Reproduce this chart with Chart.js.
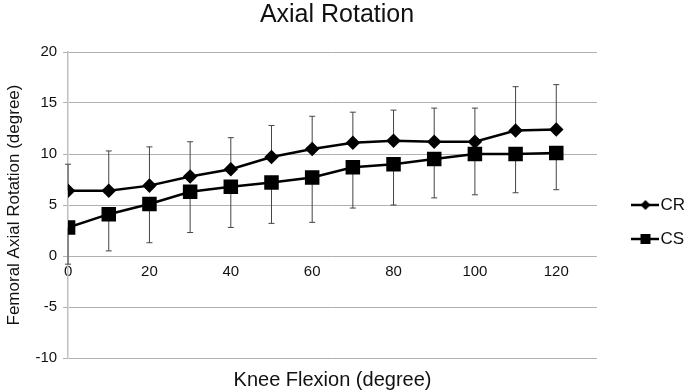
<!DOCTYPE html>
<html>
<head>
<meta charset="utf-8">
<script src="https://cdn.jsdelivr.net/npm/chart.js@4"></script>
<style>
  html, body { margin: 0; padding: 0; background: #fff; }
  #wrap { width: 688px; height: 392px; }
</style>
</head>
<body>
<div id="wrap"><canvas id="chart"></canvas></div>
<script>
const flexion = [0, 10, 20, 30, 40, 50, 60, 70, 80, 90, 100, 110, 120];
const crMean = [6.4, 6.4, 6.9, 7.8, 8.5, 9.7, 10.5, 11.1, 11.3, 11.2, 11.2, 12.3, 12.4];
const crSD = [2.6, 3.9, 3.8, 3.4, 3.1, 3.1, 3.2, 3.0, 3.0, 3.3, 3.3, 4.3, 4.4];
const csMean = [2.8, 4.1, 5.1, 6.3, 6.8, 7.2, 7.7, 8.7, 9.0, 9.5, 10.0, 10.0, 10.1];
const csSD = [3.6, 3.6, 3.8, 4.0, 4.0, 4.0, 4.4, 4.0, 4.0, 3.8, 4.0, 3.8, 3.6];
const xTicks = [0, 20, 40, 60, 80, 100, 120];

const font = "'Liberation Sans', Arial, sans-serif";
const ink = "#111";

// small legend swatch: line with the marker on it
function swatch(shape) {
  const c = document.createElement("canvas");
  c.width = 28; c.height = 14;
  const g = c.getContext("2d");
  g.strokeStyle = "#000";
  g.lineWidth = 2.5;
  g.beginPath(); g.moveTo(0, 7); g.lineTo(28, 7); g.stroke();
  g.fillStyle = "#000";
  if (shape === "diamond") {
    g.beginPath();
    g.moveTo(14, 2); g.lineTo(19, 7); g.lineTo(14, 12); g.lineTo(9, 7);
    g.closePath(); g.fill();
  } else {
    g.fillRect(9, 2, 10, 10);
  }
  return c;
}

// error bars: CR up, CS down
const errorBars = {
  id: "errorBars",
  beforeDatasetsDraw(chart) {
    const { ctx, scales: { x, y } } = chart;
    ctx.save();
    ctx.strokeStyle = "#444";
    ctx.lineWidth = 1;
    const draw = (means, sds, dir) => {
      flexion.forEach((f, i) => {
        const px = x.getPixelForValue(f);
        const y0 = y.getPixelForValue(means[i]);
        const y1 = y.getPixelForValue(means[i] + dir * sds[i]);
        ctx.beginPath();
        ctx.moveTo(px, y0); ctx.lineTo(px, y1);
        ctx.moveTo(px - 3, y1); ctx.lineTo(px + 3, y1);
        ctx.stroke();
      });
    };
    draw(crMean, crSD, 1);
    draw(csMean, csSD, -1);
    ctx.restore();
  }
};

// nudge the legend down/right to where it sits in the original
const legendShift = {
  id: "legendShift",
  afterLayout(chart) {
    const lg = chart.legend;
    lg.top += 26; lg.bottom += 26;
    lg.left += 25; lg.right += 25;
  }
};

new Chart(document.getElementById("chart"), {
  type: "scatter",
  data: {
    datasets: [
      {
        label: "CR",
        data: flexion.map((f, i) => ({ x: f, y: crMean[i] })),
        showLine: true,
        borderColor: "#000",
        backgroundColor: "#000",
        borderWidth: 2.5,
        pointStyle: "rectRot",
        pointRadius: 5.5,
        pointHoverRadius: 5.5,
        legendImg: swatch("diamond")
      },
      {
        label: "CS",
        data: flexion.map((f, i) => ({ x: f, y: csMean[i] })),
        showLine: true,
        borderColor: "#000",
        backgroundColor: "#000",
        borderWidth: 2.5,
        pointStyle: "rect",
        pointRadius: 8.5,
        pointHoverRadius: 8.5,
        legendImg: swatch("square")
      }
    ]
  },
  options: {
    responsive: true,
    maintainAspectRatio: false,
    animation: false,
    layout: { padding: { left: 4, right: 18, bottom: 0 } },
    plugins: {
      title: {
        display: true,
        text: "Axial Rotation",
        color: ink,
        font: { family: font, size: 25, weight: "normal" },
        padding: { top: 0, bottom: 22 }
      },
      legend: {
        position: "right",
        labels: {
          usePointStyle: true,
          pointStyleWidth: 13,
          color: ink,
          font: { family: font, size: 17 },
          padding: 17,
          generateLabels: (chart) => chart.data.datasets.map((ds, i) => ({
            text: ds.label,
            pointStyle: ds.legendImg,
            fontColor: ink,
            lineWidth: 0,
            datasetIndex: i
          }))
        }
      },
      tooltip: { enabled: false }
    },
    scales: {
      x: {
        type: "linear",
        min: 0,
        max: 130,
        grid: { display: false },
        border: { display: false },
        ticks: { display: false },
        title: {
          display: true,
          text: "Knee Flexion (degree)",
          color: ink,
          font: { family: font, size: 20 },
          padding: { top: 2, bottom: 0 }
        }
      },
      xt: {
        type: "linear",
        position: { y: 0 },
        min: 0,
        max: 130,
        afterBuildTicks: (s) => { s.ticks = xTicks.map(v => ({ value: v })); },
        grid: { display: false, drawTicks: false },
        border: { display: false },
        ticks: {
          color: ink,
          font: { family: font, size: 15 },
          padding: 7,
          maxRotation: 0
        }
      },
      y: {
        min: -10,
        max: 20,
        ticks: {
          stepSize: 5,
          color: ink,
          font: { family: font, size: 15 },
          padding: 6
        },
        grid: { color: "#b0b0b0", lineWidth: 1, tickLength: 5 },
        border: { color: "#c0c0c0", width: 1.5 },
        title: {
          display: true,
          text: "Femoral Axial Rotation (degree)",
          color: ink,
          font: { family: font, size: 17 },
          padding: { top: 0, bottom: 5 }
        }
      }
    }
  },
  plugins: [errorBars, legendShift]
});
</script>
</body>
</html>
